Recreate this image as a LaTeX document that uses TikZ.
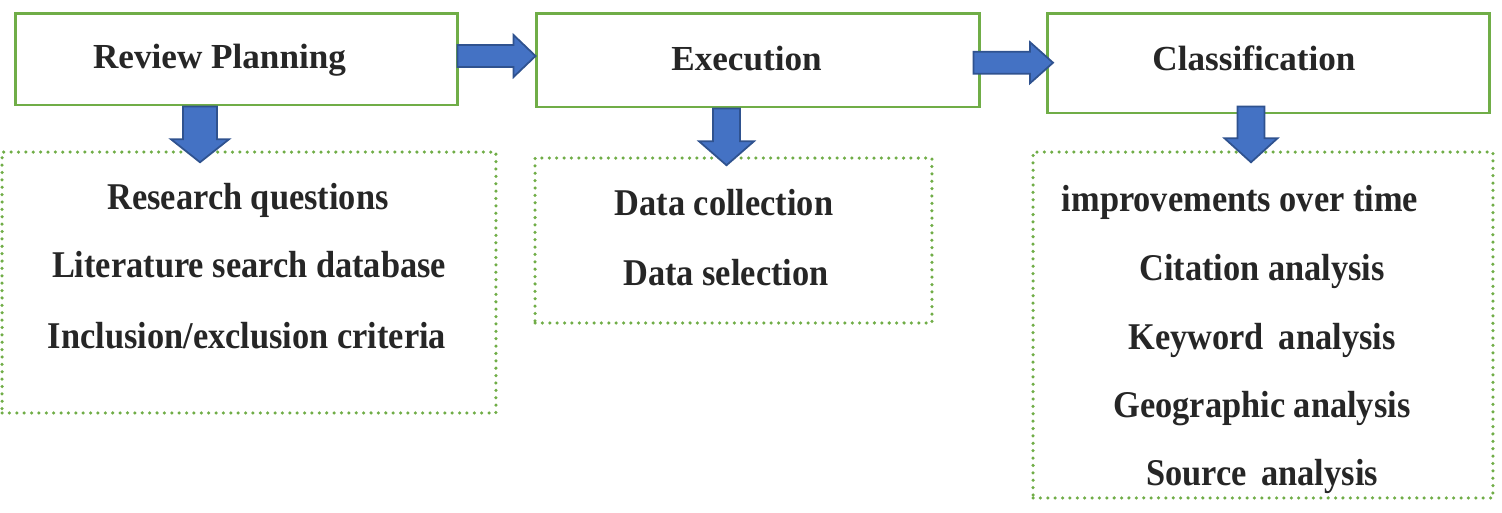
\documentclass[tikz,border=0pt]{standalone}
\usepackage{fontspec}
\setmainfont{Liberation Serif}
\newfontfamily\condfont{Liberation Serif}[FakeStretch=0.91]
\usetikzlibrary{calc}
\definecolor{boxgreen}{HTML}{70AD47}
\definecolor{arrowfill}{HTML}{4472C4}
\definecolor{arrowline}{HTML}{2F528F}
\definecolor{txt}{HTML}{262626}
% right block arrow: start, end, shaft half width, head half width, head length
\newcommand\rblock[5]{%
  \draw[blockarrow] let \p1=(#1), \p2=(#2) in
  (\x1,\y1+#3) -- (\x2-#5,\y1+#3) -- (\x2-#5,\y1+#4) -- (\x2,\y1)
  -- (\x2-#5,\y1-#4) -- (\x2-#5,\y1-#3) -- (\x1,\y1-#3) -- cycle;}
% down block arrow: start, end, shaft half width, head half width, head length
\newcommand\dblock[5]{%
  \draw[blockarrow] let \p1=(#1), \p2=(#2) in
  (\x1-#3,\y1) -- (\x1-#3,\y2+#5) -- (\x1-#4,\y2+#5) -- (\x1,\y2)
  -- (\x1+#4,\y2+#5) -- (\x1+#3,\y2+#5) -- (\x1+#3,\y1) -- cycle;}
\tikzset{
  titlebox/.style={draw=boxgreen, line width=1.7pt, fill=white, inner sep=0pt},
  dotbox/.style={draw=boxgreen, line width=2pt, line cap=round, dash pattern=on 0pt off 4.2pt, inner sep=0pt},
  blockarrow/.style={draw=arrowline, fill=arrowfill, line width=1pt, line join=miter},
  titletext/.style={anchor=base, text=txt, inner sep=0pt, font=\bfseries\fontsize{20}{24}\selectfont},
  bodytext/.style={anchor=base, text=txt, inner sep=0pt, font=\condfont\bfseries\fontsize{21.5}{26}\selectfont},
}
\begin{document}
\begin{tikzpicture}[x=0.02cm, y=-0.02cm]
\useasboundingbox (0,0) rectangle (1502,512);
% title boxes
\node[titlebox, minimum width=8.86cm, minimum height=1.84cm] (rp) at (236.5,59) {};
\node[titlebox, minimum width=8.88cm, minimum height=1.88cm] (ex) at (758,60) {};
\node[titlebox, minimum width=8.86cm, minimum height=2.0cm] (cl) at (1268.5,63) {};
\node[titletext] (rpt) at (219.5,68) {Review Planning};
\node[titletext] (ext) at (746.5,70) {Execution};
\node[titletext] (clt) at (1254,70) {Classification};
% dotted content boxes
\node[dotbox, minimum width=9.88cm, minimum height=5.22cm] (d1) at (249,282.5) {};
\node[dotbox, minimum width=7.94cm, minimum height=3.3cm] (d2) at (733.5,240.5) {};
\node[dotbox, minimum width=9.2cm, minimum height=6.92cm] (d3) at (1263,325) {};
% contents
\node[bodytext] (a1) at (248,209) {Research questions};
\node[bodytext] (a2) at (249,277) {Literature search database};
\node[bodytext] (a3) at (247,348) {Inclusion/exclusion criteria};
\node[bodytext] (b1) at (724,215) {Data collection};
\node[bodytext] (b2) at (726,285) {Data selection};
\node[bodytext] (c1) at (1240,211) {improvements over time};
\node[bodytext] (c2) at (1262,280) {Citation analysis};
\node[bodytext] (c3) at (1262,349) {Keyword\, analysis};
\node[bodytext] (c4) at (1262,417) {Geographic analysis};
\node[bodytext] (c5) at (1262,485) {Source\, analysis};
% connectors
\coordinate (r1s) at ([xshift=-0.04cm,yshift=0.06cm]rp.east);
\coordinate (r1e) at ([xshift=0.02cm]ex.west);
\rblock{r1s}{r1e}{0.22cm}{0.42cm}{0.44cm}
\coordinate (r2s) at ([xshift=-0.16cm,yshift=-0.054cm]ex.east);
\coordinate (r2e) at ([xshift=0.15cm]cl.west);
\rblock{r2s}{r2e}{0.22cm}{0.41cm}{0.46cm}
\coordinate (d1s) at ([xshift=-0.73cm]rp.south);
\coordinate (d1e) at ([yshift=-0.24cm]d1.north);
\dblock{d1s}{d1e}{0.34cm}{0.58cm}{0.46cm}
\coordinate (d2s) at ([xshift=-0.63cm]ex.south);
\coordinate (d2e) at ([yshift=-0.18cm]d2.north);
\dblock{d2s}{d2e}{0.27cm}{0.55cm}{0.48cm}
\coordinate (d3s) at ([xshift=-0.35cm,yshift=0.16cm]cl.south);
\coordinate (d3e) at ([yshift=-0.24cm]d3.north);
\dblock{d3s}{d3e}{0.27cm}{0.53cm}{0.48cm}
\end{tikzpicture}
\end{document}
